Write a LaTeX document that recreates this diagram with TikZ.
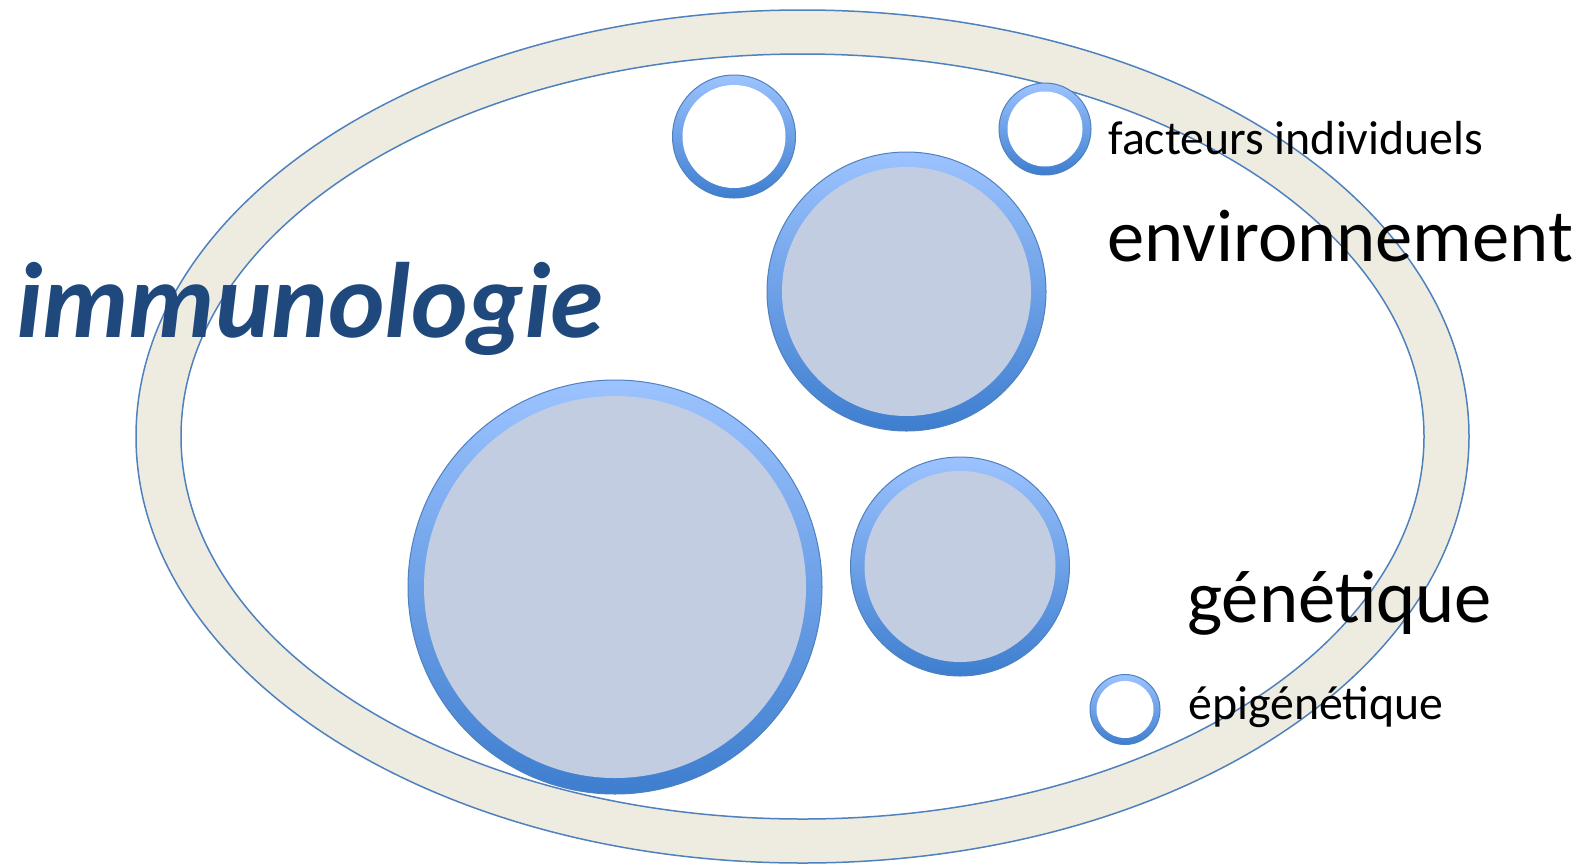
\documentclass[tikz,border=0pt]{standalone}
\usepackage{fontspec}
\setmainfont{Carlito}
\usetikzlibrary{positioning}
\definecolor{RingFill}{HTML}{EEECE1}
\definecolor{RingEdge}{HTML}{4F81BD}
\definecolor{BallTop}{HTML}{9CC3FF}
\definecolor{BallBottom}{HTML}{3E7ECF}
\definecolor{BallCore}{HTML}{C2CDE1}
\definecolor{TitleBlue}{HTML}{1F497D}
\begin{document}
\begin{tikzpicture}[x=0.5pt,y=-0.5pt,
    label/.style={inner sep=0pt,anchor=base west}]
    \useasboundingbox (0,0) rectangle (1579,863);
    % outer ring
    \filldraw[fill=RingFill,draw=RingEdge,line width=0.75pt,even odd rule]
      (802.5,436.5) ellipse (666.5 and 426.5)
      (802.5,436.5) ellipse (621.5 and 382.5);
    % filled balls
    \foreach \cx/\cy/\r/\w in {615/587/207/16,906.5/291.5/139.5/15,960/566.5/109.5/14}{
      \pgfmathsetmacro{\ri}{\r-\w}
      \shade[top color=BallTop,bottom color=BallBottom] (\cx,\cy) circle (\r);
      \fill[BallCore] (\cx,\cy) circle (\ri);
      \draw[RingEdge,line width=0.5pt] (\cx,\cy) circle (\r);}
    % empty balls
    \foreach \cx/\cy/\r/\w in {734/136.5/61.5/10,1045/129/46/8.5,1125/709.5/35/6.5}{
      \pgfmathsetmacro{\ri}{\r-\w}
      \shade[top color=BallTop,bottom color=BallBottom] (\cx,\cy) circle (\r);
      \fill[white] (\cx,\cy) circle (\ri);
      \draw[RingEdge,line width=0.5pt] (\cx,\cy) circle (\r);}
    \node[label,font=\fontsize{53.6}{62}\selectfont\bfseries\itshape,text=TitleBlue]
      (immuno) at (16,337) {immunologie};
    \node[label,font=\fontsize{23.9}{28}\selectfont] (facteurs) at (1108,154) {facteurs individuels};
    \node[label,font=\fontsize{37.3}{44}\selectfont] (environ) at (1107,261) {environnement};
    \node[label,font=\fontsize{37.3}{44}\selectfont] (genet) at (1187,622) {génétique};
    \node[label,font=\fontsize{23.9}{28}\selectfont] (epigen) at (1188,719) {épigénétique};
  \end{tikzpicture}
\end{document}
